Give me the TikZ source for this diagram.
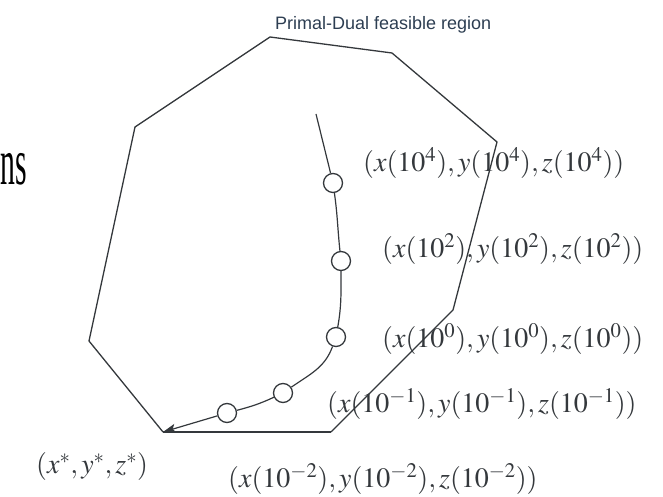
\documentclass[tikz,border=0pt]{standalone}
\usepackage[no-math]{fontspec}
\usepackage{mathptmx}
\setmainfont{Liberation Serif}
\setsansfont{Liberation Sans}
\usetikzlibrary{arrows.meta}
\definecolor{ink}{RGB}{52,56,60}
\definecolor{titlecol}{RGB}{45,62,82}
\tikzset{
  edge/.style={draw=ink, line width=1.3pt, line join=miter},
  pt/.style={circle, draw=ink, fill=white, line width=1.3pt, minimum size=19pt, inner sep=0pt},
  lbl/.style={font=\fontsize{28}{32}\selectfont, text=ink, inner sep=0pt},
  curve/.style={draw=ink, line width=1.2pt}
}
\begin{document}
\begin{tikzpicture}[x=1pt,y=1pt]
\useasboundingbox (0,0) rectangle (663,497);
% polygon vertices
\coordinate (tip) at (163,65);
\coordinate (v1) at (89,156);
\coordinate (v2) at (135,370);
\coordinate (v3) at (270,460);
\coordinate (v4) at (392,444);
\coordinate (v5) at (497,355);
\coordinate (v6) at (453,187);
\coordinate (v7) at (331,65);
\draw[edge] (tip) -- (v1) -- (v2) -- (v3) -- (v4) -- (v5) -- (v6) -- (v7);
\draw[edge, line width=1.8pt] (v7) -- (tip);
% central path
\coordinate (start) at (316,383);
\node[pt] (c1) at (333,314) {};
\node[pt] (c2) at (341,236) {};
\node[pt] (c3) at (336,160) {};
\node[pt] (c4) at (283,104) {};
\node[pt] (c5) at (227,84) {};
\draw[curve] (start) -- (c1);
\draw[curve] (c1) to[out=-82,in=96] (c2);
\draw[curve] (c2) to[out=-90,in=80] (c3);
\draw[curve] (c3) to[out=-110,in=35] (c4);
\draw[curve] (c4) to[out=-155,in=15] (c5);
\draw[curve,-{Stealth[length=13pt,width=9pt,inset=3pt]}] (c5) -- (tip);
% labels
\node[font=\sffamily\fontsize{18}{20}\selectfont, text=titlecol, inner sep=0pt, anchor=base west] (title) at (275,467) {Primal-Dual feasible region};
\node[font=\fontsize{66}{70}\selectfont, text=black, inner sep=0pt, anchor=base east, xscale=0.45] (ns) at (27,312) {ns};
\node[lbl, anchor=base west] (l4) at (363,325) {$(x(10^4), y(10^4), z(10^4))$};
\node[lbl, anchor=base west] (l2) at (382,239) {$(x(10^2), y(10^2), z(10^2))$};
\node[lbl, anchor=base west] (l0) at (382,149) {$(x(10^0), y(10^0), z(10^0))$};
\node[lbl, anchor=base west] (lm1) at (327,84) {$(x(10^{-1}), y(10^{-1}), z(10^{-1}))$};
\node[lbl, anchor=base west] (lm2) at (228,9) {$(x(10^{-2}), y(10^{-2}), z(10^{-2}))$};
\node[lbl, anchor=base west] (ls) at (36,23) {$(x^*, y^*, z^*)$};
\end{tikzpicture}
\end{document}
